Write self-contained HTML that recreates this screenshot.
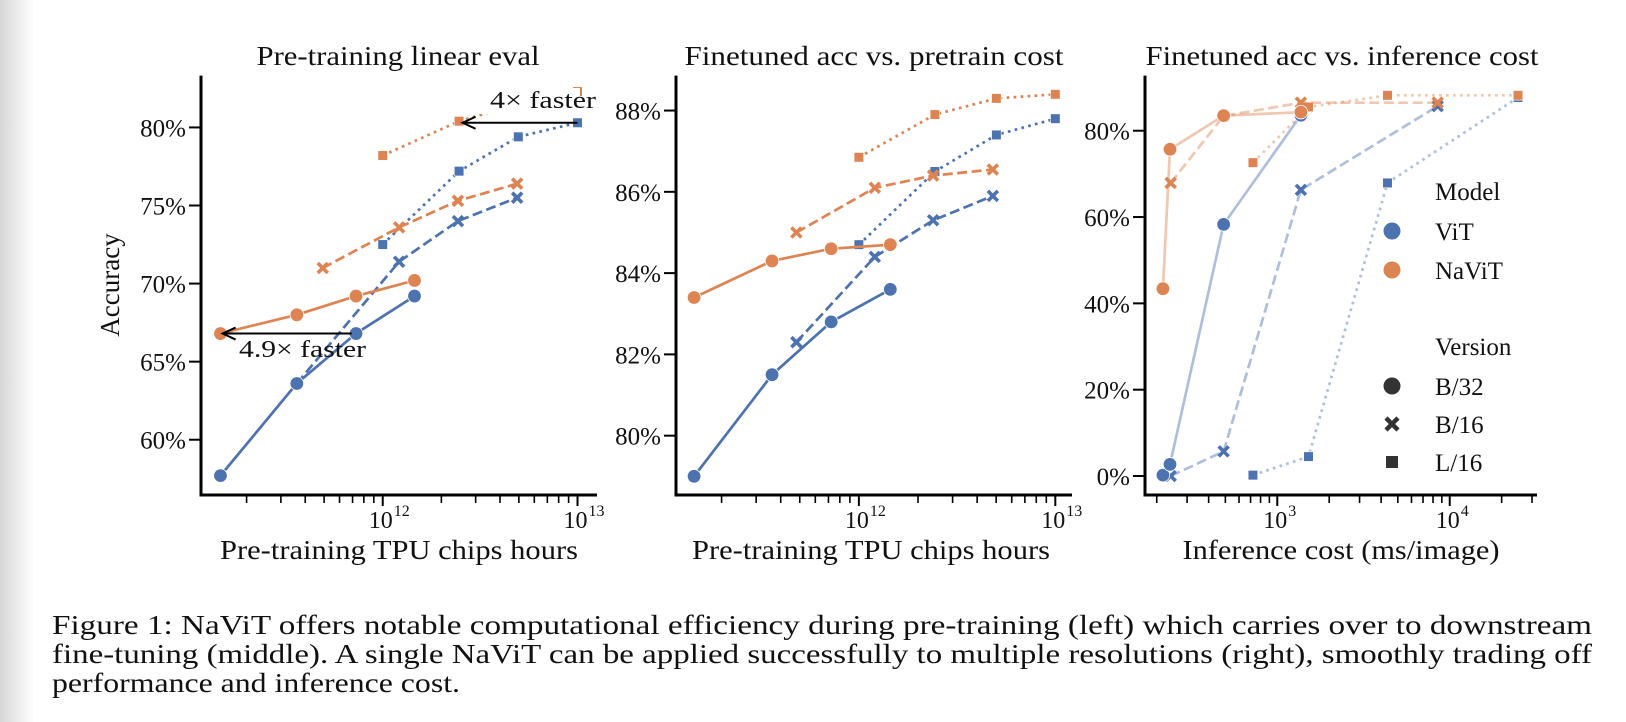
<!DOCTYPE html>
<html><head><meta charset="utf-8"><style>
html,body{margin:0;padding:0;background:#fff;}
svg{display:block;font-family:"Liberation Serif",serif;}
</style></head><body>
<svg id="fig" width="1626" height="722" viewBox="0 0 1626 722" xmlns="http://www.w3.org/2000/svg">
<defs><linearGradient id="edge" x1="0" x2="1" y1="0" y2="0"><stop offset="0" stop-color="#d6d6d6"/><stop offset="1" stop-color="#ffffff"/></linearGradient></defs>
<rect x="0" y="0" width="34" height="722" fill="url(#edge)"/>
<g id="plots"></g>
<g font-size="27" fill="#111">
<text x="52" y="634" textLength="1540" lengthAdjust="spacingAndGlyphs">Figure 1: NaViT offers notable computational efficiency during pre-training (left) which carries over to downstream</text>
<text x="52" y="663" textLength="1540" lengthAdjust="spacingAndGlyphs">fine-tuning (middle). A single NaViT can be applied successfully to multiple resolutions (right), smoothly trading off</text>
<text x="52" y="692" textLength="408" lengthAdjust="spacingAndGlyphs">performance and inference cost.</text>
</g>
</svg>
<script>
// ---------- Data (x values are log10) ----------
// Left: Pre-training linear eval
const leftVitB32X = [11.167, 11.559, 11.863, 12.163];
const leftVitB32Y = [57.7, 63.6, 66.8, 69.2];
const leftNavitB32X = [11.167, 11.559, 11.863, 12.163];
const leftNavitB32Y = [66.8, 68.0, 69.2, 70.2];
const leftVitB16X = [11.559, 12.084, 12.386, 12.69];
const leftVitB16Y = [63.6, 71.4, 74.0, 75.5];
const leftNavitB16X = [11.692, 12.084, 12.386, 12.69];
const leftNavitB16Y = [71.0, 73.6, 75.3, 76.4];
const leftVitL16X = [12.0, 12.392, 12.696, 13.0];
const leftVitL16Y = [72.5, 77.2, 79.4, 80.3];
const leftNavitL16X = [12.0, 12.392, 12.696, 13.0];
const leftNavitL16Y = [78.2, 80.4, 81.5, 82.3];
const leftYTicks = [60, 65, 70, 75, 80];
// Middle: Finetuned acc vs pretrain cost
const midVitB32X = [11.161, 11.558, 11.859, 12.16];
const midVitB32Y = [79.0, 81.5, 82.8, 83.6];
const midNavitB32X = [11.161, 11.558, 11.859, 12.16];
const midNavitB32Y = [83.4, 84.3, 84.6, 84.7];
const midVitB16X = [11.682, 12.081, 12.378, 12.682];
const midVitB16Y = [82.3, 84.4, 85.3, 85.9];
const midNavitB16X = [11.682, 12.081, 12.378, 12.682];
const midNavitB16Y = [85.0, 86.1, 86.4, 86.55];
const midVitL16X = [12.0, 12.387, 12.7, 13.0];
const midVitL16Y = [84.7, 86.5, 87.4, 87.8];
const midNavitL16X = [12.0, 12.387, 12.7, 13.0];
const midNavitL16Y = [86.85, 87.9, 88.3, 88.4];
const midYTicks = [80, 82, 84, 86, 88];
// Right: Finetuned acc vs inference cost
const rightVitB32X = [2.337, 2.378, 2.689, 3.137];
const rightVitB32Y = [0.2, 2.7, 58.3, 83.6];
const rightNavitB32X = [2.337, 2.378, 2.689, 3.137];
const rightNavitB32Y = [43.4, 75.7, 83.5, 84.3];
const rightVitB16X = [2.382, 2.689, 3.137, 3.93];
const rightVitB16Y = [0.0, 5.7, 66.3, 85.7];
const rightNavitB16X = [2.382, 2.689, 3.137, 3.93];
const rightNavitB16Y = [67.9, 83.4, 86.5, 86.5];
const rightVitL16X = [2.859, 3.181, 3.639, 4.396];
const rightVitL16Y = [0.2, 4.5, 67.9, 87.7];
const rightNavitL16X = [2.859, 3.181, 3.639, 4.396];
const rightNavitL16Y = [72.6, 85.5, 88.2, 88.2];
const rightYTicks = [0, 20, 40, 60, 80];

const BLUE = '#4c72b0', ORANGE = '#dd8452';
const NS = 'http://www.w3.org/2000/svg';
const root = document.getElementById('plots');
function mk(tag, attrs, parent) {
  const e = document.createElementNS(NS, tag);
  for (const k in attrs) e.setAttribute(k, attrs[k]);
  (parent || root).appendChild(e);
  return e;
}
function makeAxes(p) {
  p.sx = v => p.x0 + (v - p.xmin) / (p.xmax - p.xmin) * (p.x1 - p.x0);
  p.sy = v => p.y1 - (v - p.ymin) / (p.ymax - p.ymin) * (p.y1 - p.y0);
  const g = mk('g', {});
  
  
  p.g = g;
  const sp = mk('path', {d: `M${p.x0},${p.y0} L${p.x0},${p.y1} L${p.x1},${p.y1}`, fill: 'none', stroke: '#000', 'stroke-width': 3}, g);
  
  
  p.yTicks.forEach(t => {
    const y = p.sy(t);
    mk('line', {x1: p.x0 - 12, x2: p.x0, y1: y, y2: y, stroke: '#000', 'stroke-width': 2}, g);
    const tx = mk('text', {x: p.x0 - 15, y: y + 9, 'text-anchor': 'end', 'font-size': 25, fill: '#111'}, g);
    tx.textContent = t + '%';
    
    
  });
  for (let d = Math.floor(p.xmin); d <= Math.ceil(p.xmax); d++) {
    for (let m = 1; m <= 9; m++) {
      const v = d + Math.log10(m);
      if (v < p.xmin || v > p.xmax) continue;
      const x = p.sx(v);
      mk('line', {x1: x, x2: x, y1: p.y1, y2: p.y1 + (m === 1 ? 11 : 8), stroke: '#000', 'stroke-width': m === 1 ? 2 : 1.6}, g);
      if (m === 1) {
        const tx = mk('text', {x: x - 2, y: p.y1 + 33, 'text-anchor': 'middle', 'font-size': 24, fill: '#111'}, g);
        tx.textContent = '10';
        
        
        const sup = mk('text', {x: x + 11, y: p.y1 + 21, 'text-anchor': 'start', 'font-size': 16, fill: '#111'}, g);
        sup.textContent = String(d);
        
        
      }
    }
  }
  const tt = mk('text', {x: p.titleX, y: 65, 'text-anchor': 'middle', 'font-size': 27, fill: '#111', textLength: p.titleW, lengthAdjust: 'spacingAndGlyphs'}, g);
  tt.textContent = p.title;
  
  
  const xl = mk('text', {x: p.xlX, y: 559, 'text-anchor': 'middle', 'font-size': 27, fill: '#111', textLength: p.xlW, lengthAdjust: 'spacingAndGlyphs'}, g);
  xl.textContent = p.xlabel;
  
  
}
function marker(p, shape, x, y, color, parent) {
  let e;
  if (shape === 'circle') e = mk('circle', {cx: x, cy: y, r: 6.8, fill: color, stroke: '#fff', 'stroke-width': 0.8}, parent);
  else if (shape === 'square') e = mk('rect', {x: x - 4.8, y: y - 4.8, width: 9.6, height: 9.6, fill: color, stroke: '#fff', 'stroke-width': 0.6}, parent);
  else e = mk('path', {d: `M${x-5},${y-5} L${x+5},${y+5} M${x-5},${y+5} L${x+5},${y-5}`, stroke: color, 'stroke-width': 3.6, fill: 'none'}, parent);
  return e;
}
function series(p, name, xs, ys, color, shape, dash, lineOpacity) {
  const g = mk('g', {}, p.g);
  
  
  const pts = xs.map((v, i) => p.sx(v).toFixed(1) + ',' + p.sy(ys[i]).toFixed(1));
  const da = dash === 'dash' ? '10,4.5' : dash === 'dot' ? '2.7,4.3' : 'none';
  mk('polyline', {points: pts.join(' '), fill: 'none', stroke: color, 'stroke-width': 2.7, 'stroke-dasharray': da, 'stroke-opacity': lineOpacity}, g);
  xs.forEach((v, i) => {
    const m = marker(p, shape, p.sx(v), p.sy(ys[i]), color, g);
    
    
  });
}
function arrow(p, name, xFrom, xTo, yv) {
  const y = p.sy(yv), x1 = p.sx(xFrom), x2 = p.sx(xTo);
  const g = mk('g', {}, p.g);
  
  
  mk('line', {x1: x1, x2: x2, y1: y, y2: y, stroke: '#000', 'stroke-width': 2}, g);
  mk('path', {d: `M${x2+13},${y-6} L${x2},${y} L${x2+13},${y+6}`, stroke: '#000', 'stroke-width': 2, fill: 'none'}, g);
}

const left = {name: 'left', x0: 201, x1: 597, y0: 75.6, y1: 495, xmin: 11.067, xmax: 13.1, ymin: 56.46, ymax: 83.32,
  yTicks: leftYTicks, title: 'Pre-training linear eval', titleX: 398, titleW: 283, xlabel: 'Pre-training TPU chips hours', xlX: 399, xlW: 358};
const mid = {name: 'middle', x0: 676, x1: 1072, y0: 75.6, y1: 495, xmin: 11.069, xmax: 13.085, ymin: 78.54, ymax: 88.86,
  yTicks: midYTicks, title: 'Finetuned acc vs. pretrain cost', titleX: 874, titleW: 379, xlabel: 'Pre-training TPU chips hours', xlX: 871, xlW: 358};
const right = {name: 'right', x0: 1145, x1: 1537, y0: 75.6, y1: 495, xmin: 2.233, xmax: 4.506, ymin: -4.4, ymax: 92.77,
  yTicks: rightYTicks, title: 'Finetuned acc vs. inference cost', titleX: 1342, titleW: 393, xlabel: 'Inference cost (ms/image)', xlX: 1341, xlW: 317};

[left, mid, right].forEach(makeAxes);

series(left, 'vit-l16', leftVitL16X, leftVitL16Y, BLUE, 'square', 'dot', 1);
series(left, 'navit-l16', leftNavitL16X, leftNavitL16Y, ORANGE, 'square', 'dot', 1);
series(left, 'vit-b16', leftVitB16X, leftVitB16Y, BLUE, 'x', 'dash', 1);
series(left, 'navit-b16', leftNavitB16X, leftNavitB16Y, ORANGE, 'x', 'dash', 1);
series(left, 'vit-b32', leftVitB32X, leftVitB32Y, BLUE, 'circle', 'solid', 1);
series(left, 'navit-b32', leftNavitB32X, leftNavitB32Y, ORANGE, 'circle', 'solid', 1);
const bg1 = mk('rect', {x: 468, y: 88, width: 112, height: 26, fill: '#fff'}, left.g);


arrow(left, 'speedup-arrow-4x', 13.0, 12.41, 80.3);
const a1 = mk('text', {x: 490, y: 108, 'font-size': 24, fill: '#111', textLength: 106, lengthAdjust: 'spacingAndGlyphs'}, left.g);
a1.textContent = '4\u00d7 faster';


arrow(left, 'speedup-arrow-4.9x', 11.84, 11.178, 66.8);
const a2 = mk('text', {x: 239, y: 357, 'font-size': 24, fill: '#111', textLength: 127, lengthAdjust: 'spacingAndGlyphs'}, left.g);
a2.textContent = '4.9\u00d7 faster';


const yl = mk('text', {x: 0, y: 0, 'text-anchor': 'middle', 'font-size': 27, fill: '#111', transform: 'translate(119,285) rotate(-90)'}, left.g);
yl.textContent = 'Accuracy';



series(mid, 'vit-l16', midVitL16X, midVitL16Y, BLUE, 'square', 'dot', 1);
series(mid, 'navit-l16', midNavitL16X, midNavitL16Y, ORANGE, 'square', 'dot', 1);
series(mid, 'vit-b16', midVitB16X, midVitB16Y, BLUE, 'x', 'dash', 1);
series(mid, 'navit-b16', midNavitB16X, midNavitB16Y, ORANGE, 'x', 'dash', 1);
series(mid, 'vit-b32', midVitB32X, midVitB32Y, BLUE, 'circle', 'solid', 1);
series(mid, 'navit-b32', midNavitB32X, midNavitB32Y, ORANGE, 'circle', 'solid', 1);

series(right, 'vit-l16', rightVitL16X, rightVitL16Y, BLUE, 'square', 'dot', 0.45);
series(right, 'navit-l16', rightNavitL16X, rightNavitL16Y, ORANGE, 'square', 'dot', 0.45);
series(right, 'vit-b16', rightVitB16X, rightVitB16Y, BLUE, 'x', 'dash', 0.45);
series(right, 'navit-b16', rightNavitB16X, rightNavitB16Y, ORANGE, 'x', 'dash', 0.45);
series(right, 'vit-b32', rightVitB32X, rightVitB32Y, BLUE, 'circle', 'solid', 0.45);
series(right, 'navit-b32', rightNavitB32X, rightNavitB32Y, ORANGE, 'circle', 'solid', 0.45);

const lg = mk('g', {}, right.g);


const legendItems = [
  ['Model', null, 191], ['ViT', 'vit', 231], ['NaViT', 'navit', 270],
  ['Version', null, 346], ['B/32', 'b32', 386], ['B/16', 'b16', 424], ['L/16', 'l16', 462]
];
legendItems.forEach(it => {
  const t = mk('text', {x: 1435, y: it[2] + 9, 'font-size': 25, fill: '#111'}, lg);
  t.textContent = it[0];
  
  
  let m = null;
  if (it[1] === 'vit') m = mk('circle', {cx: 1392, cy: it[2], r: 8.5, fill: BLUE}, lg);
  if (it[1] === 'navit') m = mk('circle', {cx: 1392, cy: it[2], r: 8.5, fill: ORANGE}, lg);
  if (it[1] === 'b32') m = mk('circle', {cx: 1392, cy: it[2], r: 8.5, fill: '#333'}, lg);
  if (it[1] === 'b16') m = mk('path', {d: `M1386,${it[2]-6} L1398,${it[2]+6} M1386,${it[2]+6} L1398,${it[2]-6}`, stroke: '#333', 'stroke-width': 4.5, fill: 'none'}, lg);
  if (it[1] === 'l16') m = mk('rect', {x: 1386, y: it[2] - 6, width: 12, height: 12, fill: '#333'}, lg);
  if (m) {
    
    
  }
});
</script>
</body></html>
